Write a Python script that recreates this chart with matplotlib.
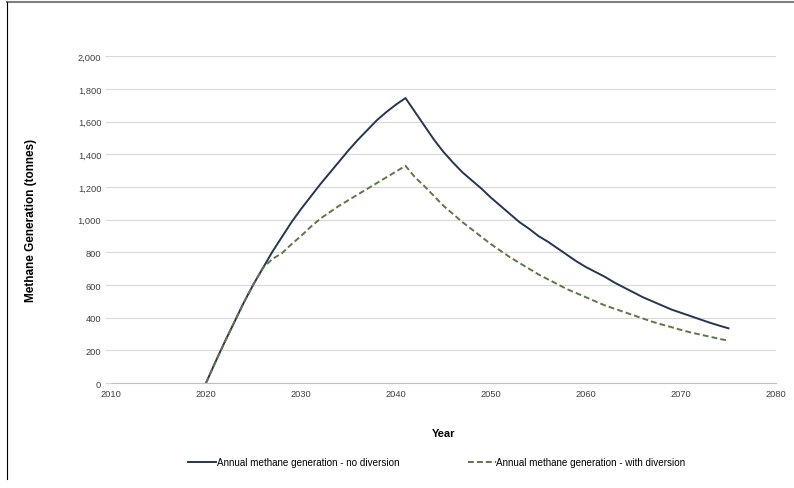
import matplotlib
matplotlib.use("Agg")
from matplotlib import pyplot as plt
from matplotlib.lines import Line2D
from matplotlib.ticker import FuncFormatter

plt.rcParams["font.family"] = ["Liberation Sans", "DejaVu Sans"]

years = list(range(2020, 2076))

# no diversion, 2020..2075
no_diversion = [
    0, 130, 255, 375, 495, 605, 705, 805, 895, 985,
    1065, 1140, 1215, 1285, 1355, 1425, 1490, 1550, 1610, 1660,
    1705, 1745, 1660, 1575, 1490, 1415, 1350, 1290, 1240, 1190,
    1135, 1085, 1035, 985, 945, 900, 865, 825, 785, 745,
    710, 680, 650, 615, 585, 555, 525, 500, 475, 450,
    430, 410, 390, 370, 352, 335,
]

# with diversion, 2020..2075
with_diversion = [
    0, 130, 255, 375, 495, 605, 705, 760, 795, 850,
    900, 955, 1005, 1045, 1085, 1120, 1155, 1190, 1225, 1260,
    1295, 1330, 1260, 1205, 1145, 1085, 1035, 985, 940, 895,
    850, 810, 770, 735, 700, 665, 635, 605, 575, 550,
    525, 500, 475, 455, 435, 415, 395, 375, 358, 342,
    325, 310, 297, 284, 271, 259,
]

x_ticks = list(range(2010, 2090, 10))
y_ticks = list(range(0, 2200, 200))

fig = plt.figure(figsize=(7.94, 4.89), dpi=100)
ax = fig.add_axes([0.1398, 0.2147, 0.9773 - 0.1398, 0.8826 - 0.2147])

ax.plot(years, no_diversion, color="#243654", lw=1.4,
        label="Annual methane generation - no diversion")
ax.plot(years, with_diversion, color="#5f7745", lw=1.4, ls=(0, (3, 1.6)),
        label="Annual methane generation - with diversion")

ax.set_xlim(2010, 2080)
ax.set_ylim(0, 2000)
ax.set_xticks(x_ticks)
ax.set_yticks(y_ticks)
ax.yaxis.set_major_formatter(FuncFormatter(lambda v, p: f"{int(v):,}"))
ax.grid(axis="y", color="#d9d9d9", lw=0.8)
ax.set_axisbelow(True)

for s in ["top", "right", "left"]:
    ax.spines[s].set_visible(False)
ax.spines["bottom"].set_color("#bfbfbf")
ax.spines["bottom"].set_linewidth(0.8)

ax.tick_params(axis="x", length=0, pad=4, labelsize=6.7, labelcolor="#404040")
ax.tick_params(axis="y", length=4, width=0.8, color="#d9d9d9", pad=3,
               labelsize=6.7, labelcolor="#404040")

ax.set_xlabel("Year", fontsize=8, fontweight="bold", labelpad=22)
ax.set_ylabel("Methane Generation (tonnes)", fontsize=8.5, fontweight="bold",
              labelpad=29)

ax.legend(loc="upper center", bbox_to_anchor=(0.49, -0.2), ncol=2,
          frameon=False, fontsize=7.1, handlelength=2.8, handletextpad=0.05,
          columnspacing=7)

# outer frame like the source image
fig.add_artist(Line2D([0.009, 1.0], [0.994, 0.994], color="#808080", lw=1.5,
                      transform=fig.transFigure))
fig.add_artist(Line2D([0.009, 0.009], [0.994, 0.018], color="black", lw=0.8,
                      transform=fig.transFigure))

fig.savefig("out.png", dpi=100)
